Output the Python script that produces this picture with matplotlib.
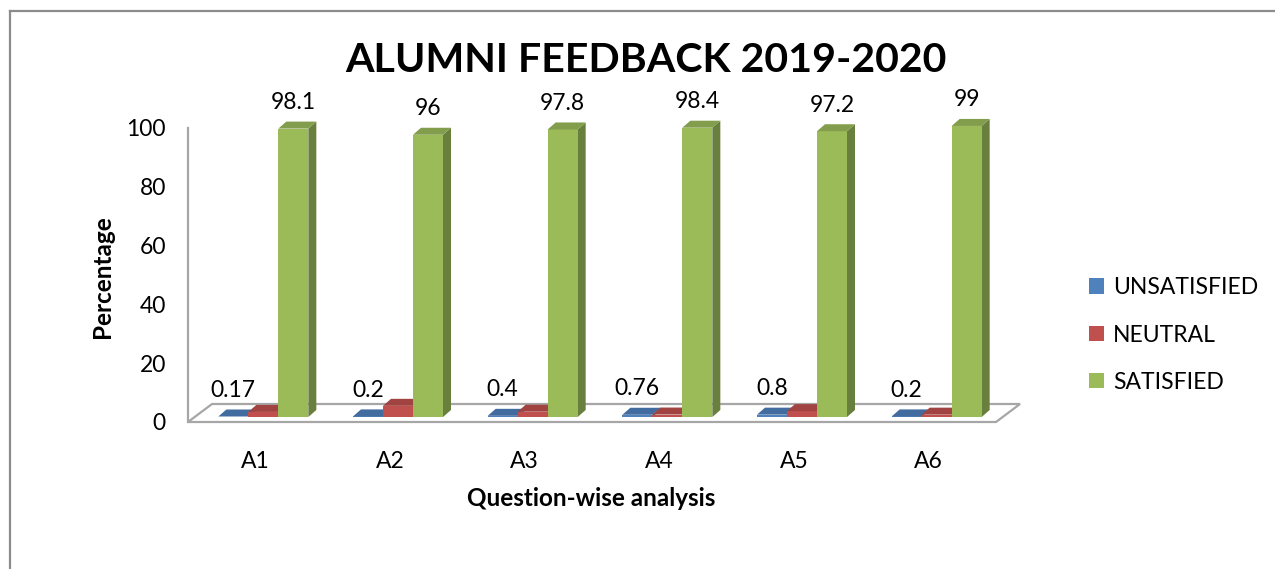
import matplotlib
matplotlib.use('Agg')
import matplotlib.pyplot as plt
from matplotlib.patches import Polygon, Patch
from matplotlib.lines import Line2D
import matplotlib.transforms as mtrans
from matplotlib.colors import to_rgb

# ---------------- data ----------------
categories = ['A1', 'A2', 'A3', 'A4', 'A5', 'A6']
unsatisfied = [0.17, 0.2, 0.4, 0.76, 0.8, 0.2]
neutral = [1.73, 3.8, 1.8, 0.84, 2.0, 0.8]
satisfied = [98.1, 96, 97.8, 98.4, 97.2, 99]
series_names = ['UNSATISFIED', 'NEUTRAL', 'SATISFIED']
series_colors = ['#4F81BD', '#C0504D', '#9BBB59']
yticks = [0, 20, 40, 60, 80, 100]
title = 'ALUMNI FEEDBACK 2019-2020'
xlabel = 'Question-wise analysis'
ylabel = 'Percentage'
# which series carry data labels
labelled = [True, False, True]

plt.rcParams['font.family'] = ['Lato', 'DejaVu Sans']

W, H = 1275, 569
DPI = 100
fig = plt.figure(figsize=(W / DPI, H / DPI), dpi=DPI)

# axes geometry in pixels
x_left, x_right = 188, 996
y_zero, y_top = 422, 128
ax = fig.add_axes([x_left / W, (H - y_zero) / H, (x_right - x_left) / W, (y_zero - y_top) / H])
ax.set_xlim(-0.5, len(categories) - 0.5)
ax.set_ylim(0, 100)

px_per_x = (x_right - x_left) / len(categories)
px_per_y = (y_zero - y_top) / 100.0

def shade(c, f):
    r, g, b = to_rgb(c)
    return (r * f, g * f, b * f)

FS = 16.5

# floor (3D-look)
fdx, fdy = 24 / px_per_x, 18 / px_per_y
x0f, x1f = -0.5, len(categories) - 0.5
floor = Polygon([(x0f, 0), (x1f, 0), (x1f + fdx, fdy), (x0f + fdx, fdy)],
                closed=True, facecolor='white', edgecolor='#a6a6a6', lw=1.6,
                clip_on=False, zorder=1)
ax.add_patch(floor)

# bars pushed back into depth
shift = ax.transData + mtrans.ScaledTranslation(8 / DPI, 5 / DPI, fig.dpi_scale_trans)
bw = 30 / px_per_x
ddx, ddy = 8 / px_per_x, 7 / px_per_y

all_series = [unsatisfied, neutral, satisfied]
for i, cat in enumerate(categories):
    for k, vals in enumerate(all_series):
        v = vals[i]
        xc = i + (k - 1) * bw
        xl = xc - bw / 2
        z = 3 + i * 10 + k * 3
        col = series_colors[k]
        side = Polygon([(xl + bw, 0), (xl + bw + ddx, ddy), (xl + bw + ddx, v + ddy), (xl + bw, v)],
                       closed=True, facecolor=shade(col, 0.68), edgecolor='none',
                       transform=shift, clip_on=False, zorder=z)
        ax.add_patch(side)
        ax.bar([xc], [v], width=bw, color=col, transform=shift, clip_on=False,
               zorder=z + 1, linewidth=0)
        top = Polygon([(xl, v), (xl + bw, v), (xl + bw + ddx, v + ddy), (xl + ddx, v + ddy)],
                      closed=True, facecolor=shade(col, 0.84), edgecolor='none',
                      transform=shift, clip_on=False, zorder=z + 2)
        ax.add_patch(top)
        if labelled[k]:
            ax.annotate(f'{v:g}', xy=(xc, v), xycoords=shift, xytext=(0, 26),
                        textcoords='offset pixels', ha='center', va='center',
                        fontsize=FS, color='#000000', zorder=200)

# axes styling
for s in ['top', 'right', 'bottom']:
    ax.spines[s].set_visible(False)
ax.spines['left'].set_color('#a6a6a6')
ax.spines['left'].set_linewidth(1.6)
ax.spines['left'].set_zorder(2)
ax.set_yticks(yticks)
ax.set_yticklabels([str(t) for t in yticks])
ax.set_xticks(range(len(categories)))
ax.set_xticklabels(categories)
ax.tick_params(axis='y', length=0, pad=16, labelsize=FS, labelcolor='#000000')
ax.tick_params(axis='x', length=0, pad=21, labelsize=FS, labelcolor='#000000')
ax.patch.set_visible(False)

ax.set_ylabel(ylabel, fontsize=17.5, fontweight='bold')
ax.yaxis.label.set_va('center')
ax.yaxis.set_label_coords((103 - x_left) / (x_right - x_left), 0.5 - (277 - (y_zero + y_top) / 2) / (y_zero - y_top))
ax.set_xlabel(xlabel, fontsize=17.5, fontweight='bold')
ax.xaxis.label.set_va('center')
ax.xaxis.set_label_coords((591 - x_left) / (x_right - x_left), (y_zero - 498) / (y_zero - y_top))

# title, fitted to the reference width
t = fig.text(646 / W, 1 - 60 / H, title, ha='center', va='center', fontsize=36,
             fontweight='bold', color='#000000')
fig.canvas.draw()
r = fig.canvas.get_renderer()
wpx = t.get_window_extent(r).width
t.set_fontsize(36 * 602 / wpx)

# legend
handles = [Patch(facecolor=c, edgecolor='none') for c in series_colors]
fig.legend(handles, series_names, loc='center left',
           bbox_to_anchor=(1080 / W, 1 - 335 / H), frameon=False, fontsize=FS,
           handlelength=0.65, handleheight=0.65, handletextpad=0.4, labelspacing=1.15,
           borderaxespad=0)

# outer border (top and left visible)
fig.add_artist(Line2D([9.5 / W, 1.0], [1 - 10.5 / H, 1 - 10.5 / H], transform=fig.transFigure,
                      color='#8c8c8c', lw=1.6))
fig.add_artist(Line2D([9.5 / W, 9.5 / W], [0, 1 - 10.5 / H], transform=fig.transFigure,
                      color='#8c8c8c', lw=1.6))

fig.savefig('out.png', dpi=DPI)
